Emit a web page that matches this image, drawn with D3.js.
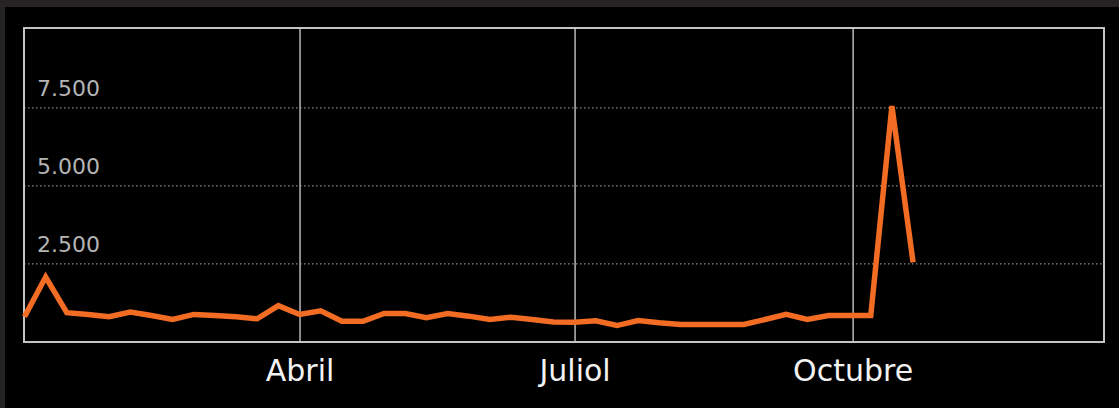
<!DOCTYPE html>
<html>
<head>
<meta charset="utf-8">
<script src="https://cdn.jsdelivr.net/npm/d3@7"></script>
<style>
  html, body { margin: 0; padding: 0; background: #252324; }
  svg { display: block; }
</style>
</head>
<body>
<div id="chart"></div>
<script>
// weekly values, first week starts 2016-01-01
var startDate = "2016-01-01";
var endDate = "2016-12-23";
var weeklyValues = [
  808, 2080, 938, 883, 808, 957, 850, 721, 883, 850,
  808, 744, 1166, 883, 1000, 666, 666, 915, 915, 776,
  915, 828, 721, 796, 721, 640, 630, 680, 527, 690,
  614, 560, 560, 560, 560, 720, 885, 720, 850, 850,
  850, 7560, 2550
];
var yTicks = [2500, 5000, 7500];
var yMax = 10060;
var tickDates = ["2016-04-01", "2016-07-01", "2016-10-01"];
var tickLabels = ["Abril", "Juliol", "Octubre"];

var W = 1119, H = 408;
var margin = { left: 24, top: 28, right: 15, bottom: 66 };
var plotW = W - margin.left - margin.right;
var plotH = H - margin.top - margin.bottom;

var parse = d3.utcParse("%Y-%m-%d");
var t0 = parse(startDate);
var data = weeklyValues.map(function (v, i) {
  return { date: d3.utcDay.offset(t0, i * 7), value: v };
});

var svg = d3.select("#chart").append("svg")
  .attr("width", W)
  .attr("height", H);

// black panel over the dark outer edge
svg.append("rect")
  .attr("x", 5).attr("y", 7)
  .attr("width", W - 5).attr("height", H - 7)
  .attr("fill", "#000");

var g = svg.append("g")
  .attr("transform", "translate(" + margin.left + "," + margin.top + ")");

var x = d3.scaleUtc()
  .domain([t0, parse(endDate)])
  .range([0.5, plotW - 0.5]);

var y = d3.scaleLinear()
  .domain([0, yMax])
  .range([plotH, 0]);

// horizontal dotted grid + labels
g.selectAll(".hgrid")
  .data(yTicks)
  .enter().append("line")
  .attr("class", "hgrid")
  .attr("x1", 0).attr("x2", plotW)
  .attr("y1", function (d) { return y(d); })
  .attr("y2", function (d) { return y(d); })
  .attr("stroke", "#8a8a8a")
  .attr("stroke-width", 1.2)
  .attr("stroke-dasharray", "1.5,2.5");

var fmt = d3.formatLocale({ decimal: ",", thousands: ".", grouping: [3], currency: ["", "€"] }).format(",d");
g.selectAll(".ylab")
  .data(yTicks)
  .enter().append("text")
  .attr("class", "ylab")
  .attr("x", 13)
  .attr("y", function (d) { return y(d) - 12; })
  .attr("fill", "#b4b4b4")
  .style("font-family", "'DejaVu Sans', Verdana, sans-serif")
  .style("font-size", "22px")
  .text(function (d) { return fmt(d); });

// vertical grid lines and month labels via the axis
var xAxis = d3.axisBottom(x)
  .tickValues(tickDates.map(parse))
  .tickSize(plotH)
  .tickPadding(10)
  .tickFormat(function (d, i) { return tickLabels[i]; });

var ax = g.append("g")
  .call(xAxis);
ax.select(".domain").remove();
ax.selectAll(".tick line")
  .attr("stroke", "#b8b8b8")
  .attr("stroke-width", 1.5);
ax.selectAll(".tick text")
  .attr("fill", "#f2f2f2")
  .attr("dy", "0.95em")
  .style("font-family", "'DejaVu Sans', Verdana, sans-serif")
  .style("font-size", "30px");

// frame
g.append("rect")
  .attr("x", 0).attr("y", 0)
  .attr("width", plotW).attr("height", plotH)
  .attr("fill", "none")
  .attr("stroke", "#c4c4c4")
  .attr("stroke-width", 2);

// series line
var line = d3.line()
  .x(function (d) { return x(d.date); })
  .y(function (d) { return y(d.value); });

g.append("path")
  .datum(data)
  .attr("d", line)
  .attr("fill", "none")
  .attr("stroke", "#f26c23")
  .attr("stroke-width", 5.5);
</script>
</body>
</html>
